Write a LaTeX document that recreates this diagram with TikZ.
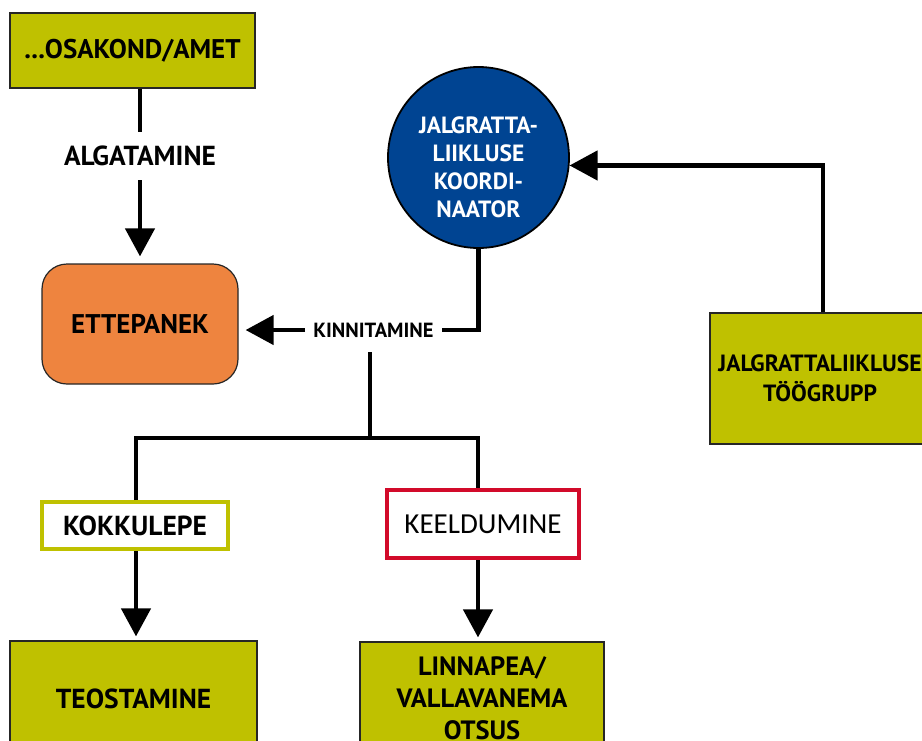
\documentclass[tikz,border=0pt]{standalone}
\usepackage{fontspec}
\setmainfont{PT Sans}
\newfontfamily\carl{Carlito}
\usetikzlibrary{arrows.meta,calc}
\definecolor{olivec}{RGB}{191,193,0}
\definecolor{orangec}{RGB}{238,132,63}
\definecolor{bluec}{RGB}{0,68,146}
\definecolor{redc}{RGB}{210,10,42}
\tikzset{
  olivebox/.style={draw=black!85, line width=1.2pt, fill=olivec, inner sep=0pt, align=center,
    font=\bfseries\fontsize{27}{30}\selectfont},
  lbl/.style={inner sep=0pt, fill=white, align=center, font=\bfseries\fontsize{27.5}{30}\selectfont},
  conn/.style={line width=4.5pt},
  arr/.style={conn, -{Triangle[length=28pt,width=29pt]}, shorten >=7pt},
}
\begin{document}
\begin{tikzpicture}[x=1pt,y=-1pt]
\useasboundingbox (0,0) rectangle (922,740);
\clip (0,0) rectangle (922,740);
% nodes
\node[olivebox, minimum width=245pt, minimum height=75pt] (osa) at (132.5,50.5) {...OSAKOND/AMET};
\node[lbl, minimum height=48pt] (alg) at (140,156) {ALGATAMINE};
\node[draw=black!85, line width=1.2pt, fill=orangec, rounded corners=25pt, minimum width=196pt, minimum height=120pt,
  inner sep=0pt, font=\bfseries\fontsize{27}{30}\selectfont] (ett) at (140,324) {ETTEPANEK};
\node[circle, draw=black, line width=1.8pt, fill=bluec, minimum size=181pt, inner sep=0pt] (koo) at (478.5,157.5) {};
\node[align=center, inner sep=0pt, text=white, font=\bfseries\fontsize{23.5}{28}\selectfont] (koot) at (478.5,167) {JALGRATTA-\\LIIKLUSE\\KOORDI-\\NAATOR};
\node[lbl, minimum height=44pt, inner xsep=8pt, font=\bfseries\fontsize{20.5}{22}\selectfont] (kin) at (373.5,330) {KINNITAMINE};
\node[olivebox, minimum width=220pt, minimum height=131pt, font=\bfseries\fontsize{23.5}{30}\selectfont] (tg) at (820,378.5) {JALGRATTALIIKLUSE\\TÖÖGRUPP};
\node[draw=olivec, line width=4pt, fill=white, minimum width=186pt, minimum height=47pt, inner sep=0pt,
  font=\bfseries\fontsize{27.5}{30}\selectfont] (kok) at (135,525.5) {KOKKULEPE};
\node[draw=redc, line width=4pt, fill=white, minimum width=192pt, minimum height=68pt, inner sep=0pt,
  font=\carl\fontsize{29}{32}\selectfont] (kee) at (483,524) {KEELDUMINE};
\node[olivebox, minimum width=247pt, minimum height=119pt, font=\bfseries\fontsize{27.5}{30}\selectfont] (teo) at (133.5,700.5) {\raisebox{3pt}{TEOSTAMINE}};
\node[olivebox, minimum width=244pt, minimum height=118pt] (lin) at (482,701) {};
\node[align=center, inner sep=0pt, font=\bfseries\fontsize{26.5}{32}\selectfont] (lint) at (482,698) {LINNAPEA/\\VALLAVANEMA\\OTSUS};
\coordinate (br) at (370,438);
\coordinate (xl) at (136,0);
\coordinate (xr) at (478,0);
\coordinate (xt) at (823,0);
% connectors
\draw[conn] (osa.south -| ett.north) -- (alg.north -| ett.north);
\draw[arr] (alg.south -| ett.north) -- (ett.north);
\draw[conn] (koo.south) |- (kin.east);
\draw[arr] (kin.west) -- (ett.east |- kin.west);
\draw[conn] ([xshift=-3.5pt]kin.south) -- (br);
\draw[conn] (kok.north -| xl) |- (br) -| (kee.north -| xr);
\draw[arr, shorten >=4pt] (kok.south -| xl) -- (teo.north -| xl);
\draw[arr, shorten >=4pt] (kee.south -| xr) -- (lin.north -| xr);
\draw[arr, shorten >=0pt] (tg.north -| xt) |- (koo.-5);
\end{tikzpicture}
\end{document}
